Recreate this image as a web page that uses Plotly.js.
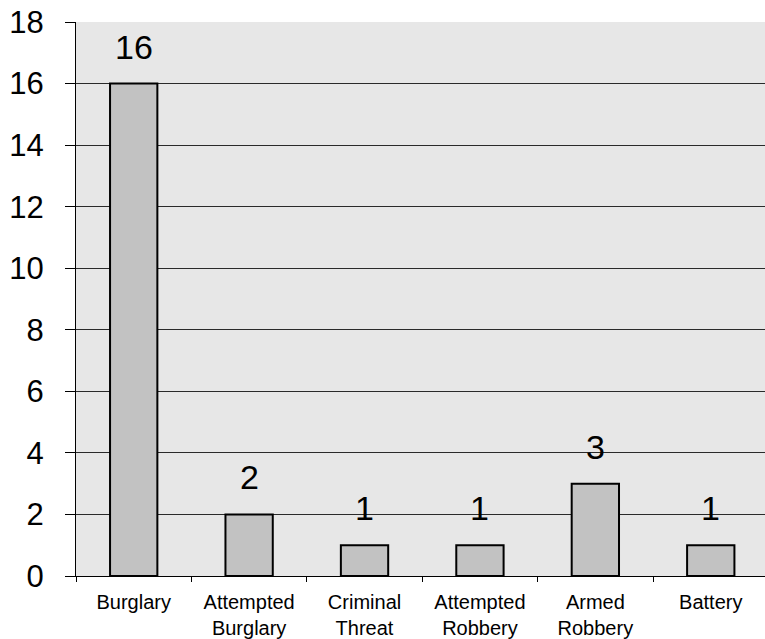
<!DOCTYPE html>
<html>
<head>
<meta charset="utf-8">
<script src="https://cdn.plot.ly/plotly-3.0.1.min.js"></script>
<style>html,body{margin:0;padding:0;background:#fff;}#chart{width:765px;height:639px;}</style>
</head>
<body>
<div id="chart"></div>
<script>
const categories = ["Burglary", "Attempted<br>Burglary", "Criminal<br>Threat", "Attempted<br>Robbery", "Armed<br>Robbery", "Battery"];
const counts = [16, 2, 1, 1, 3, 1];
const yTicks = [0, 2, 4, 6, 8, 10, 12, 14, 16, 18];

const trace = {
  type: "bar",
  x: categories,
  y: counts,
  width: 0.41,
  marker: { color: "#c2c2c2", line: { color: "#000", width: 2 } },
  hoverinfo: "skip"
};

const annotations = categories.map((c, i) => ({
  x: c, y: counts[i], xref: "x", yref: "y",
  text: String(counts[i]), showarrow: false,
  yanchor: "bottom", yshift: 16,
  font: { family: "Liberation Sans, Arial, sans-serif", size: 34, color: "#000" }
}));

const layout = {
  width: 765, height: 639,
  margin: { l: 76, r: 0, t: 22, b: 63 },
  paper_bgcolor: "#ffffff",
  plot_bgcolor: "#e7e7e7",
  showlegend: false,
  xaxis: {
    type: "category",
    range: [-0.5, 5.47],
    tickson: "boundaries",
    ticks: "outside", ticklen: 5, tickcolor: "#000", tickwidth: 1,
    showline: true, linecolor: "#000", linewidth: 1,
    showgrid: false,
    tickfont: { family: "Liberation Sans, Arial, sans-serif", size: 20, color: "#000" },
    ticklabelstandoff: 8
  },
  yaxis: {
    range: [0, 18],
    tickvals: yTicks,
    ticktext: yTicks.map(String),
    ticks: "outside", ticklen: 10, tickcolor: "#000", tickwidth: 1,
    showline: true, linecolor: "#000", linewidth: 1,
    showgrid: true, gridcolor: "#2a2a2a", gridwidth: 1,
    zeroline: false,
    tickfont: { family: "Liberation Sans, Arial, sans-serif", size: 31, color: "#000" },
    ticklabelstandoff: 15
  },
  annotations: annotations
};

Plotly.newPlot("chart", [trace], layout, { staticPlot: true, displayModeBar: false });
</script>
</body>
</html>
